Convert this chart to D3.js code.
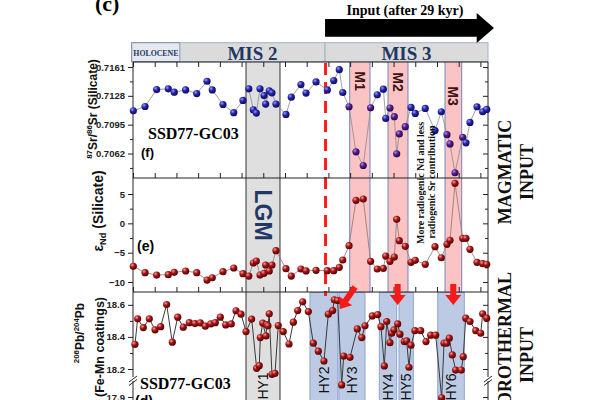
<!DOCTYPE html>
<html><head><meta charset="utf-8">
<script src="https://cdn.jsdelivr.net/npm/d3@7"></script>
<style>body{margin:0;background:#fff}svg{display:block}</style>
</head><body><svg id="c" width="600" height="400"></svg>
<script>
// ---------------- data ----------------
const depthSrNd = [0.3, 11.1, 21.8, 32.5, 38.0, 48.5, 58.7, 68.2, 73.0, 82.9, 92.8, 101.3, 106.7, 110.8, 113.6, 117.0, 120.7, 122.2, 125.5, 128.0, 131.7, 140.9, 145.8, 154.7, 159.4, 168.6, 179.0, 184.9, 190.0, 193.2, 199.0, 205.4, 212.1, 218.9, 225.0, 230.6, 232.8, 236.7, 240.7, 242.9, 245.3, 250.8, 256.1, 260.0, 269.2, 278.2, 284.0, 289.2, 292.0, 296.6, 303.7, 306.7, 310.4, 316.9, 322.1, 325.8];
const srValues = [0.71109, 0.71158, 0.71352, 0.71360, 0.71322, 0.71348, 0.71306, 0.71447, 0.71348, 0.71181, 0.71087, 0.71227, 0.71360, 0.71121, 0.71083, 0.71360, 0.71283, 0.71186, 0.71337, 0.71314, 0.71186, 0.71067, 0.71265, 0.71409, 0.71311, 0.71439, 0.71348, 0.71454, 0.71579, 0.71318, 0.71155, 0.70639, 0.70483, 0.71143, 0.71291, 0.71356, 0.71022, 0.71140, 0.71041, 0.70617, 0.70844, 0.70927, 0.71147, 0.71079, 0.71136, 0.70882, 0.71098, 0.70836, 0.70730, 0.70400, 0.70806, 0.70742, 0.70976, 0.71155, 0.71098, 0.71124];
const ndValues = [-7.32, -8.41, -8.81, -8.75, -8.35, -8.12, -8.41, -9.66, -9.27, -8.24, -7.61, -8.58, -8.98, -6.76, -6.42, -8.81, -8.52, -7.10, -8.12, -7.10, -4.66, -7.73, -8.98, -7.78, -8.10, -8.00, -8.07, -8.07, -7.49, -6.25, -3.81, 3.93, 4.15, -6.47, -7.78, -7.66, -5.57, -6.47, -5.74, 0.69, -2.96, -3.91, -6.64, -6.30, -6.98, -3.98, -5.86, -3.57, -2.89, 6.82, -2.55, -2.55, -4.43, -6.64, -6.88, -6.98];
const depthPb = [1.8, 4.3, 9.5, 15.0, 20.3, 25.5, 31.0, 36.2, 41.2, 46.3, 51.9, 57.1, 62.0, 66.6, 71.6, 75.8, 80.4, 85.4, 90.5, 94.9, 99.5, 104.1, 109.3, 113.9, 116.3, 117.3, 119.5, 122.5, 123.2, 124.3, 125.5, 128.0, 130.8, 133.8, 138.4, 143.7, 147.7, 151.7, 156.3, 161.5, 166.1, 170.7, 175.9, 179.9, 183.9, 185.4, 188.5, 192.2, 194.1, 199.9, 206.6, 210.7, 213.7, 220.4, 225.4, 228.4, 231.5, 233.7, 236.7, 238.3, 240.4, 243.8, 245.9, 249.9, 252.1, 254.2, 256.1, 259.7, 265.0, 269.9, 274.2, 278.8, 284.3, 286.5, 288.9, 291.3, 294.1, 297.2, 302.4, 304.2, 306.5, 310.4, 315.7, 320.3, 322.1, 325.8];
const pbValues = [18.354, 18.513, 18.458, 18.513, 18.444, 18.464, 18.602, 18.367, 18.523, 18.461, 18.489, 18.483, 18.488, 18.467, 18.481, 18.489, 18.523, 18.475, 18.481, 18.563, 18.542, 18.433, 18.511, 18.204, 18.221, 18.396, 18.486, 18.406, 18.477, 18.469, 18.544, 18.143, 18.154, 18.471, 18.433, 18.356, 18.492, 18.564, 18.619, 18.558, 18.361, 18.311, 18.250, 18.542, 18.564, 18.631, 18.627, 18.029, 18.281, 18.273, 18.450, 18.396, 18.469, 18.531, 18.539, 18.464, 18.219, 18.496, 18.364, 18.423, 18.444, 18.481, 18.417, 18.371, 18.375, 18.211, 18.348, 18.439, 18.439, 18.371, 18.411, 18.411, 17.892, 18.361, 18.361, 18.392, 18.288, 18.189, 18.189, 18.277, 18.517, 18.496, 18.439, 18.423, 18.544, 18.517];
const srTicks = [0.7161, 0.7128, 0.7095, 0.7062];
const srMinor = [0.71445, 0.71115, 0.70785, 0.70455];
const ndTicks = [5, 0, -5, -10];
const ndMinor = [2.5, -2.5, -7.5];
const pbTicks = [18.6, 18.4, 18.2, 17.9];
const pbMinor = [18.5, 18.3];
const depthTicks = d3.range(0, 327, 20);
const stageNames = ["HOLOCENE", "MIS 2", "MIS 3"];
const stageBounds = [0, 43.3, 176.9, 327];
const lgmBounds = [104.1, 135.4];
const mNames = ["M1", "M2", "M3"];
const mBounds = [[199.6, 218.3], [234.9, 253.3], [287.4, 302.8]];
const hyNames = ["HY2", "HY3", "HY4", "HY5", "HY6"];
const hyBounds = [[163.0, 188.6], [189.7, 213.7], [226.9, 242.9], [245.0, 258.2], [280.7, 305.2]];
const inputStart = 176.9;
const arrowDepths = [[204.5, 190.6], [243.8, 243.8], [295.0, 295.0]];

// ---------------- layout ----------------
const svg = d3.select("#c");
const L = 133, R = 488, T = 62, FE = 178, ED = 292, B = 420;
const x = d3.scaleLinear().domain([0, 327]).range([L, R]);
const ySr = d3.scaleLinear().domain([0.7034, 0.71667]).range([FE, T]);
const yNd = d3.scaleLinear().domain([-11.7, 7.73]).range([ED, FE]);
const yPb = d3.scaleLinear().domain([17.7, 18.2, 18.68]).range([415.7, 369, ED]);
const sans = "'Liberation Sans', Arial, sans-serif";
const serif = "'Liberation Serif', 'Times New Roman', serif";

// gradients for spheres
const defs = svg.append("defs");
function sphere(id, c0, c1, c2) {
  const g = defs.append("radialGradient").attr("id", id).attr("cx", "35%").attr("cy", "32%").attr("r", "70%");
  g.append("stop").attr("offset", "0%").attr("stop-color", c0);
  g.append("stop").attr("offset", "45%").attr("stop-color", c1);
  g.append("stop").attr("offset", "100%").attr("stop-color", c2);
}
sphere("gBlue", "#9a9cff", "#2424a8", "#0c0c5c");
sphere("gPurple", "#b78be0", "#4e1d8c", "#26094e");
sphere("gRed", "#ff9a9a", "#a11414", "#520404");

// ---------------- header ----------------
const hdr = svg.append("g");
stageNames.forEach((n, i) => {
  const x0 = x(stageBounds[i]) - (i === 0 ? 1.3 : 0), x1 = x(stageBounds[i + 1]);
  hdr.append("rect").attr("x", x0).attr("y", 42.7).attr("width", x1 - x0).attr("height", 19)
    .attr("fill", i === 0 ? "#e6e8ef" : "#dbdbdb").attr("stroke", i === 0 ? "#6f80a8" : "#a3b1c8").attr("stroke-width", 1);
  hdr.append("text").attr("x", (x0 + x1) / 2).attr("y", i === 0 ? 55.5 : 59.5)
    .attr("text-anchor", "middle").attr("font-family", serif).attr("font-weight", "bold")
    .attr("font-size", i === 0 ? 7.8 : 19).attr("fill", "#1f3864").text(n);
});

// input arrow
const ax0 = x(inputStart), ax1 = 476.7, tip = 494;
svg.append("path").attr("d", `M${ax0},19 L${ax1},19 L${ax1},13 L${tip},28 L${ax1},43 L${ax1},36.7 L${ax0},36.7 Z`).attr("fill", "#000");
svg.append("text").attr("x", 405).attr("y", 15).attr("text-anchor", "middle").attr("font-family", serif)
  .attr("font-weight", "bold").attr("font-size", 14).text("Input (after 29 kyr)");
svg.append("text").attr("x", 95).attr("y", 11).attr("font-family", serif).attr("font-weight", "bold")
  .attr("font-size", 22).text("(c)");

// ---------------- zones ----------------
const zones = svg.append("g");
zones.append("rect").attr("x", x(lgmBounds[0])).attr("y", T).attr("width", x(lgmBounds[1]) - x(lgmBounds[0])).attr("height", B - T).attr("fill", "#dfdfdf");
lgmBounds.forEach(d => zones.append("line").attr("x1", x(d)).attr("x2", x(d)).attr("y1", T).attr("y2", B).attr("stroke", "#333").attr("stroke-width", 1));
mBounds.forEach(b => {
  zones.append("rect").attr("x", x(b[0])).attr("y", T).attr("width", x(b[1]) - x(b[0])).attr("height", ED + 1 - T).attr("fill", "#fbc3c3");
  b.forEach(d => zones.append("line").attr("x1", x(d)).attr("x2", x(d)).attr("y1", T).attr("y2", ED + 1).attr("stroke", "#6f87bf").attr("stroke-width", 1));
});
hyBounds.forEach(b => {
  zones.append("rect").attr("x", x(b[0])).attr("y", ED + 0.5).attr("width", x(b[1]) - x(b[0])).attr("height", B - ED)
    .attr("fill", "#bccae4").attr("stroke", "#8ea4d0").attr("stroke-width", 1);
});
// red dashed line
svg.append("line").attr("x1", x(inputStart) + 0.5).attr("x2", x(inputStart) + 0.5).attr("y1", T + 1).attr("y2", ED + 4)
  .attr("stroke", "#ff1c1c").attr("stroke-width", 3).attr("stroke-dasharray", "12,7");

// ---------------- frame & axes ----------------
const frame = svg.append("g").attr("stroke", "#222").attr("stroke-width", 1);
[T, FE, ED].forEach(y => frame.append("line").attr("x1", L).attr("x2", R).attr("y1", y).attr("y2", y));
[L, R].forEach(xx => frame.append("line").attr("x1", xx).attr("x2", xx).attr("y1", T).attr("y2", B));

function noDomain(g) { g.select(".domain").remove(); g.selectAll("line").attr("stroke", "#222"); }
svg.append("g").attr("transform", `translate(0,${T})`).call(d3.axisBottom(x).tickValues(depthTicks).tickSize(5).tickFormat("")).call(noDomain);
svg.append("g").attr("transform", `translate(0,${FE})`).call(d3.axisTop(x).tickValues(depthTicks).tickSize(5).tickFormat("")).call(noDomain);
svg.append("g").attr("transform", `translate(0,${ED})`).call(d3.axisTop(x).tickValues(depthTicks).tickSize(5).tickFormat("")).call(noDomain);

function yAxes(scale, major, minor, fmt) {
  const gl = svg.append("g").attr("transform", `translate(${L},0)`)
    .call(d3.axisLeft(scale).tickValues(major).tickSize(5).tickPadding(3).tickFormat(fmt)).call(noDomain);
  gl.selectAll("text").attr("font-family", sans).attr("font-weight", "bold").attr("font-size", 9.5).attr("fill", "#222");
  svg.append("g").attr("transform", `translate(${L},0)`).call(d3.axisLeft(scale).tickValues(minor).tickSize(3).tickFormat("")).call(noDomain);
  svg.append("g").attr("transform", `translate(${R},0)`).call(d3.axisRight(scale).tickValues(major).tickSize(-5).tickFormat("")).call(noDomain);
  svg.append("g").attr("transform", `translate(${R},0)`).call(d3.axisRight(scale).tickValues(minor).tickSize(-3).tickFormat("")).call(noDomain);
}
yAxes(ySr, srTicks, srMinor, d3.format(".4f"));
yAxes(yNd, ndTicks, ndMinor, d3.format("d"));
yAxes(yPb, pbTicks, pbMinor, d3.format(".1f"));

// axis breaks
[L, R].forEach(xx => {
  svg.append("rect").attr("x", xx - 2).attr("y", 377).attr("width", 4).attr("height", 4).attr("fill", "#fff");
  [0, 3.5].forEach(o => svg.append("line").attr("x1", xx - 4).attr("x2", xx + 4).attr("y1", 382 + o).attr("y2", 376 + o).attr("stroke", "#222").attr("stroke-width", 1));
});

// ---------------- series ----------------
const inM = d => mBounds.some(b => d >= b[0] - 1 && d <= b[1] + 1);
const srData = depthSrNd.map((d, i) => [d, srValues[i]]);
const ndData = depthSrNd.map((d, i) => [d, ndValues[i]]);
const pbData = depthPb.map((d, i) => [d, pbValues[i]]);

svg.append("path").datum(srData).attr("fill", "none").attr("stroke", "#8a8a8a").attr("stroke-width", 0.8)
  .attr("d", d3.line().x(d => x(d[0])).y(d => ySr(d[1])));
svg.append("path").datum(ndData).attr("fill", "none").attr("stroke", "#8f7676").attr("stroke-width", 0.8)
  .attr("d", d3.line().x(d => x(d[0])).y(d => yNd(d[1])));
svg.append("path").datum(pbData).attr("fill", "none").attr("stroke", "#3a3a3a").attr("stroke-width", 1)
  .attr("d", d3.line().x(d => x(d[0])).y(d => yPb(d[1])));

svg.append("g").selectAll("circle").data(srData).join("circle")
  .attr("cx", d => x(d[0])).attr("cy", d => ySr(d[1])).attr("r", 3.6)
  .attr("fill", d => inM(d[0]) ? "url(#gPurple)" : "url(#gBlue)");
svg.append("g").selectAll("circle").data(ndData).join("circle")
  .attr("cx", d => x(d[0])).attr("cy", d => yNd(d[1])).attr("r", 3.6).attr("fill", "url(#gRed)");
svg.append("g").selectAll("circle").data(pbData).join("circle")
  .attr("cx", d => x(d[0])).attr("cy", d => yPb(d[1])).attr("r", 3.6).attr("fill", "url(#gRed)");

// ---------------- red arrows ----------------
function arrow(x1, y1, x2, y2) {
  const a = Math.atan2(y2 - y1, x2 - x1), len = Math.hypot(x2 - x1, y2 - y1);
  const hl = 10, hw = 8, sw = 3;
  const g = svg.append("g").attr("transform", `translate(${x1},${y1}) rotate(${a * 180 / Math.PI})`);
  g.append("path").attr("d", `M0,${-sw} L${len - hl},${-sw} L${len - hl},${-hw} L${len},0 L${len - hl},${hw} L${len - hl},${sw} L0,${sw} Z`).attr("fill", "#f51a1a");
}
arrow(x(arrowDepths[0][0]), ED - 5, x(arrowDepths[0][1]), ED + 17);
arrow(x(arrowDepths[1][0]), ED - 8, x(arrowDepths[1][1]), ED + 13);
arrow(x(arrowDepths[2][0]), ED - 8, x(arrowDepths[2][1]), ED + 13);

// ---------------- labels ----------------
function rtext(tx, ty, rot, txt, size, weight, family, fill) {
  return svg.append("text").attr("transform", `translate(${tx},${ty}) rotate(${rot})`)
    .attr("text-anchor", "middle").attr("dominant-baseline", "central")
    .attr("font-size", size).attr("font-weight", weight).attr("font-family", family).attr("fill", fill).text(txt);
}
rtext((x(lgmBounds[0]) + x(lgmBounds[1])) / 2, 215, 90, "LGM", 23, "bold", sans, "#1f3864");
const mLabelY = [81, 82, 96];
mNames.forEach((n, i) => rtext((x(mBounds[i][0]) + x(mBounds[i][1])) / 2, mLabelY[i], 90, n, 14, "bold", sans, "#3b1414"));
rtext((x(lgmBounds[0]) + x(lgmBounds[1])) / 2, 386, -90, "HY1", 14, "normal", sans, "#111");
hyNames.forEach((n, i) => rtext((x(hyBounds[i][0]) + x(hyBounds[i][1])) / 2, i === 0 || i === 1 ? 380 : 387, -90, n, 14, "normal", sans, "#111"));

// annotation text
rtext(420, 183, -90, "More radiogenic Nd and less", 10, "bold", serif, "#111");
rtext(431, 182, -90, "radiogenic Sr contribution", 10, "bold", serif, "#111");
rtext(505, 172, -90, "MAGMATIC", 18, "bold", serif, "#111");
rtext(527, 172, -90, "INPUT", 18, "bold", serif, "#111");
rtext(505, 352, -90, "HYDROTHERMAL", 18, "bold", serif, "#111");
rtext(527, 355, -90, "INPUT", 18, "bold", serif, "#111");

svg.append("text").attr("x", 148).attr("y", 138.5).attr("font-family", serif).attr("font-weight", "bold").attr("font-size", 16).text("SSD77-GC03");
svg.append("text").attr("x", 140).attr("y", 389).attr("font-family", serif).attr("font-weight", "bold").attr("font-size", 16).text("SSD77-GC03");
svg.append("text").attr("x", 141).attr("y", 157).attr("font-family", sans).attr("font-weight", "bold").attr("font-size", 13).text("(f)");
svg.append("text").attr("x", 137).attr("y", 251).attr("font-family", sans).attr("font-weight", "bold").attr("font-size", 14).text("(e)");
svg.append("text").attr("x", 135).attr("y", 406).attr("font-family", sans).attr("font-weight", "bold").attr("font-size", 14).text("(d)");

// axis titles
function ytitle(tx, ty, size, parts) {
  const t = svg.append("text").attr("transform", `translate(${tx},${ty}) rotate(-90)`).attr("text-anchor", "middle")
    .attr("font-family", sans).attr("font-weight", "bold").attr("font-size", size).attr("fill", "#111");
  parts.forEach(p => {
    const s = t.append("tspan").text(p[0]);
    if (p[1] === "sup") s.attr("font-size", size * 0.66).attr("dy", -5);
    if (p[1] === "sub") s.attr("font-size", size * 0.66).attr("dy", 3);
    if (p[1] === "back") s.attr("dy", p[2]);
  });
}
ytitle(97, 109, 12, [["87", "sup"], ["Sr/", "back", 5], ["86", "sup"], ["Sr (Silicate)", "back", 5]]);
ytitle(103, 211, 14, [["ε", ""], ["Nd", "sub"], [" (Silicate)", "back", -3]]);
ytitle(84, 333, 12, [["206", "sup"], ["Pb/", "back", 5], ["204", "sup"], ["Pb", "back", 5]]);
ytitle(104, 347, 12.5, [["(Fe-Mn coatings)", ""]]);
</script></body></html>
